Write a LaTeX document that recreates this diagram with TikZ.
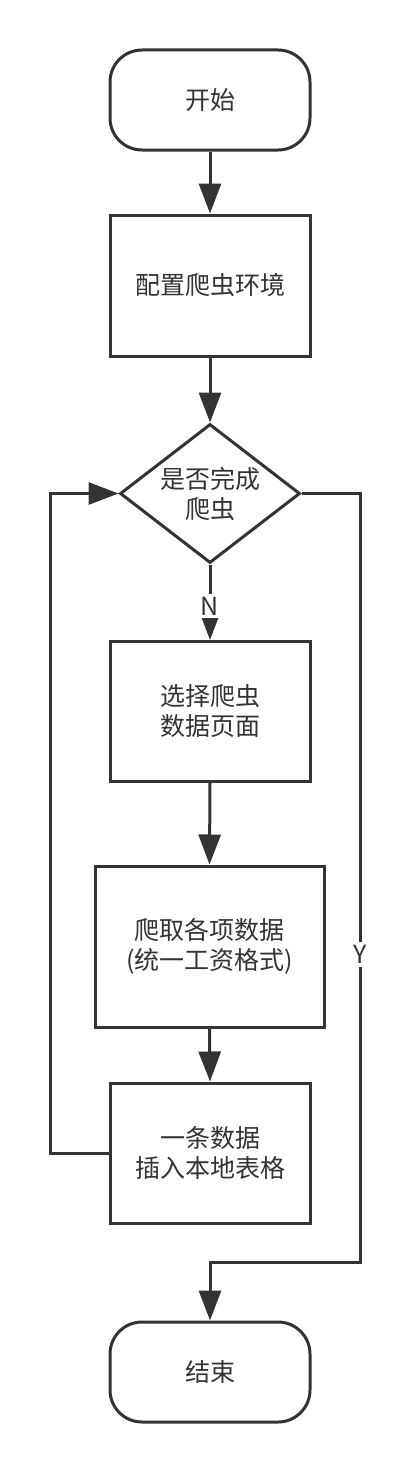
\documentclass[tikz,border=0pt]{standalone}
\usepackage{fontspec}
\usepackage{tikz}
\usetikzlibrary{shapes.geometric, arrows.meta, positioning, calc}
\newfontfamily\cjk{Noto Sans CJK SC}
\definecolor{ink}{HTML}{333333}
\tikzset{
  term/.style={rectangle, rounded corners=32pt, draw=ink, line width=3pt, fill=white, text=ink,
    font=\cjk\fontsize{25}{30}\selectfont, minimum width=200pt, minimum height=100pt,
    align=center, inner sep=0pt},
  proc/.style={rectangle, draw=ink, line width=3pt, fill=white, text=ink,
    font=\cjk\fontsize{25}{30}\selectfont, minimum width=200pt, minimum height=140pt,
    align=center, inner sep=0pt},
  proc/wide/.style={proc, minimum width=229pt, minimum height=161pt},
  dec/.style={diamond, draw=ink, line width=3pt, fill=white, text=ink,
    font=\cjk\fontsize{25}{30}\selectfont, minimum width=180pt, minimum height=139pt,
    aspect=1.3, align=center, inner sep=0pt},
  ar/.style={-{Triangle[length=30pt,width=22pt]}, draw=ink, line width=3pt},
  lb/.style={font=\cjk\fontsize{25}{30}\selectfont, fill=white, text=ink, inner sep=3pt},
}

\begin{document}
\begin{tikzpicture}[x=1pt, y=-1pt]

\useasboundingbox (0,0) rectangle (410,1472);
\fill[white] (0,0) rectangle (410,1472);

\node[term] (start) at (210,100) {开始};
\node[proc, minimum height=141pt] (env) at (210,285.5) {配置爬虫环境};
\node[dec] (check) at (210,493.5) {是否完成\\爬虫};
\node[proc] (select) at (210,711.5) {选择爬虫\\数据页面};
\node[proc/wide] (crawl) at (209.5,946.5) {爬取各项数据\\(统一工资格式)};
\node[proc] (insert) at (210,1153) {一条数据\\插入本地表格};
\node[term] (stop) at (210,1372) {结束};

\coordinate (loopL) at (50,493.5);
\coordinate (turnY) at (360,1262);

\draw[ar] (start.south) -- (env.north);
\draw[ar] (env.south) -- (check.north);
\draw[ar] (check.south) -- node[lb, pos=0.55]{N} (select.north);
\draw[ar] (select.south) -- (crawl.north);
\draw[ar] (crawl.south) -- (insert.north);
\draw[ar] (insert.west) -| (loopL) -- (check.west);
\draw[ar] (check.east) -| node[lb, pos=0.8]{Y} (turnY) -| (stop.north);

\end{tikzpicture}
\end{document}
